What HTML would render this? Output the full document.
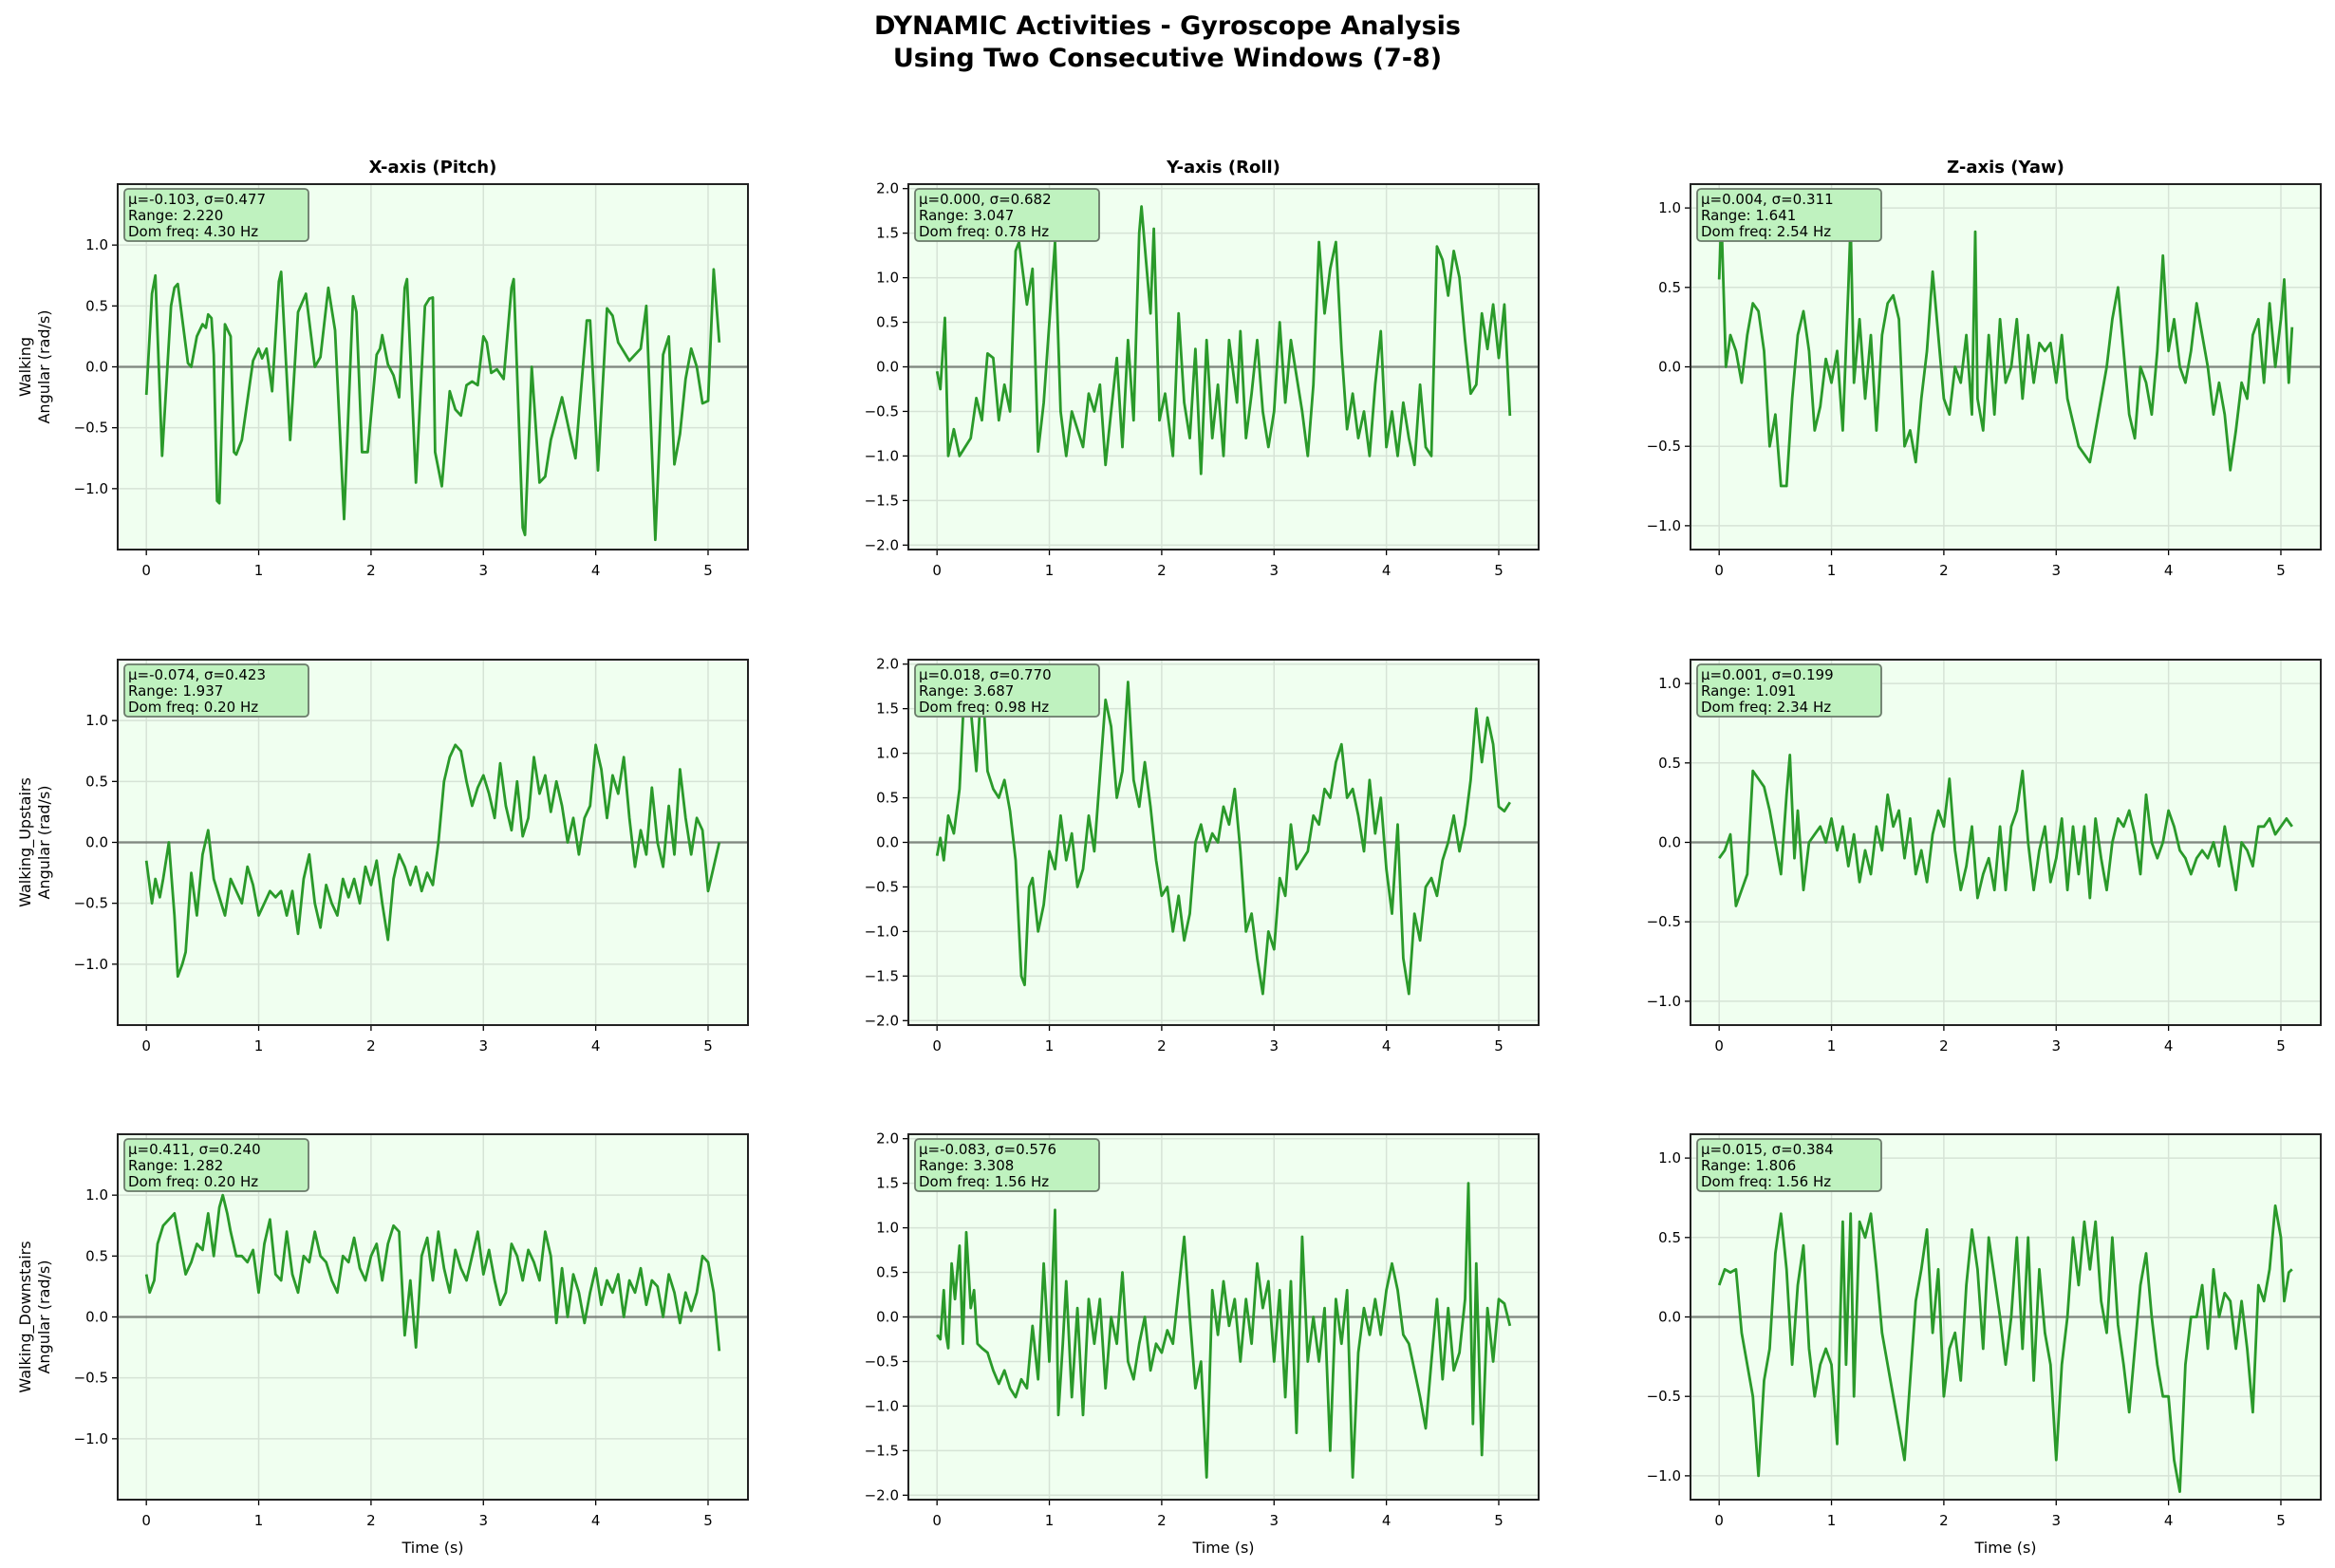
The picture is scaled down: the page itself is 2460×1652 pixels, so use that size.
<!DOCTYPE html>
<html><head><meta charset="utf-8"><style>
html,body{margin:0;padding:0;background:#fff;}
svg{display:block;font-family:"DejaVu Sans","Liberation Sans",sans-serif;}
</style></head><body>
<svg id="fig" width="2460" height="1652" viewBox="0 0 2460 1652" xmlns="http://www.w3.org/2000/svg">
<rect width="2460" height="1652" fill="#fff"/>
<text x="1230" y="36" text-anchor="middle" font-size="27" font-weight="bold">DYNAMIC Activities - Gyroscope Analysis</text>
<text x="1230" y="70" text-anchor="middle" font-size="27" font-weight="bold">Using Two Consecutive Windows (7-8)</text>
</svg>
<script>
const colTitles=["X-axis (Pitch)","Y-axis (Roll)","Z-axis (Yaw)"];
const rowNames=["Walking","Walking_Upstairs","Walking_Downstairs"];
const yLims=[1.5,2.05,1.15];
const yTicks=[[-1.0,-0.5,0.0,0.5,1.0],[-2.0,-1.5,-1.0,-0.5,0.0,0.5,1.0,1.5,2.0],[-1.0,-0.5,0.0,0.5,1.0]];
const xTicks=[0,1,2,3,4,5];
const stats=[
["μ=-0.103, σ=0.477","Range: 2.220","Dom freq: 4.30 Hz"],["μ=0.000, σ=0.682","Range: 3.047","Dom freq: 0.78 Hz"],["μ=0.004, σ=0.311","Range: 1.641","Dom freq: 2.54 Hz"],
["μ=-0.074, σ=0.423","Range: 1.937","Dom freq: 0.20 Hz"],["μ=0.018, σ=0.770","Range: 3.687","Dom freq: 0.98 Hz"],["μ=0.001, σ=0.199","Range: 1.091","Dom freq: 2.34 Hz"],
["μ=0.411, σ=0.240","Range: 1.282","Dom freq: 0.20 Hz"],["μ=-0.083, σ=0.576","Range: 3.308","Dom freq: 1.56 Hz"],["μ=0.015, σ=0.384","Range: 1.806","Dom freq: 1.56 Hz"]];
const walkX=[[0,-0.23],[0.05,0.6],[0.08,0.75],[0.14,-0.73],[0.22,0.5],[0.25,0.65],[0.28,0.68],[0.37,0.03],[0.4,0],[0.45,0.25],[0.5,0.35],[0.53,0.32],[0.55,0.43],[0.58,0.4],[0.6,0.1],[0.63,-1.1],[0.65,-1.12],[0.7,0.35],[0.75,0.25],[0.78,-0.7],[0.8,-0.72],[0.85,-0.6],[0.95,0.05],[1.0,0.15],[1.03,0.07],[1.07,0.15],[1.12,-0.2],[1.18,0.7],[1.2,0.78],[1.28,-0.6],[1.35,0.45],[1.42,0.6],[1.5,0.0],[1.55,0.08],[1.62,0.65],[1.68,0.3],[1.76,-1.25],[1.84,0.58],[1.87,0.45],[1.92,-0.7],[1.97,-0.7],[2.05,0.1],[2.08,0.15],[2.1,0.26],[2.15,0.02],[2.2,-0.07],[2.25,-0.25],[2.3,0.65],[2.32,0.72],[2.4,-0.95],[2.48,0.5],[2.52,0.56],[2.55,0.57],[2.57,-0.7],[2.63,-0.98],[2.7,-0.2],[2.75,-0.35],[2.8,-0.4],[2.85,-0.15],[2.9,-0.12],[2.95,-0.15],[3.0,0.25],[3.03,0.2],[3.07,-0.05],[3.12,-0.02],[3.18,-0.1],[3.25,0.65],[3.27,0.72],[3.35,-1.32],[3.37,-1.38],[3.43,0.0],[3.5,-0.95],[3.55,-0.9],[3.6,-0.6],[3.7,-0.25],[3.77,-0.55],[3.82,-0.75],[3.85,-0.4],[3.92,0.38],[3.95,0.38],[4.02,-0.85],[4.1,0.48],[4.15,0.42],[4.2,0.2],[4.3,0.05],[4.35,0.1],[4.4,0.15],[4.45,0.5],[4.53,-1.42],[4.6,0.1],[4.65,0.25],[4.7,-0.8],[4.75,-0.55],[4.8,-0.1],[4.85,0.15],[4.9,0.0],[4.95,-0.3],[5.0,-0.28],[5.05,0.8],[5.1,0.2]];
const walkY=[[0,-0.05],[0.03,-0.25],[0.07,0.55],[0.1,-1.0],[0.15,-0.7],[0.2,-1.0],[0.3,-0.8],[0.35,-0.35],[0.4,-0.6],[0.45,0.15],[0.5,0.1],[0.55,-0.6],[0.6,-0.2],[0.65,-0.5],[0.7,1.3],[0.73,1.4],[0.8,0.7],[0.85,1.1],[0.9,-0.95],[0.95,-0.4],[1.05,1.4],[1.1,-0.5],[1.15,-1.0],[1.2,-0.5],[1.3,-0.9],[1.35,-0.3],[1.4,-0.5],[1.45,-0.2],[1.5,-1.1],[1.55,-0.5],[1.6,0.1],[1.65,-0.9],[1.7,0.3],[1.75,-0.6],[1.8,1.5],[1.82,1.8],[1.86,1.2],[1.9,0.6],[1.93,1.55],[1.98,-0.6],[2.03,-0.3],[2.1,-1.0],[2.15,0.6],[2.2,-0.4],[2.25,-0.8],[2.3,0.2],[2.35,-1.2],[2.4,0.3],[2.45,-0.8],[2.5,-0.2],[2.55,-1.0],[2.6,0.3],[2.67,-0.4],[2.7,0.4],[2.75,-0.8],[2.8,-0.3],[2.85,0.3],[2.9,-0.5],[2.95,-0.9],[3.0,-0.5],[3.05,0.5],[3.1,-0.4],[3.15,0.3],[3.2,-0.1],[3.25,-0.5],[3.3,-1.0],[3.35,-0.2],[3.4,1.4],[3.43,0.9],[3.45,0.6],[3.5,1.1],[3.55,1.4],[3.6,0.2],[3.65,-0.7],[3.7,-0.3],[3.75,-0.8],[3.8,-0.5],[3.85,-1.0],[3.9,-0.2],[3.95,0.4],[4.0,-0.9],[4.05,-0.5],[4.1,-1.0],[4.15,-0.4],[4.2,-0.8],[4.25,-1.1],[4.3,-0.2],[4.35,-0.9],[4.4,-1.0],[4.45,1.35],[4.5,1.2],[4.55,0.8],[4.6,1.3],[4.65,1.0],[4.7,0.3],[4.75,-0.3],[4.8,-0.2],[4.85,0.6],[4.9,0.2],[4.95,0.7],[5.0,0.1],[5.05,0.7],[5.1,-0.55]];
const walkZ=[[0,0.55],[0.02,0.95],[0.06,0.0],[0.1,0.2],[0.15,0.1],[0.2,-0.1],[0.25,0.2],[0.3,0.4],[0.35,0.35],[0.4,0.1],[0.45,-0.5],[0.5,-0.3],[0.55,-0.75],[0.6,-0.75],[0.65,-0.2],[0.7,0.2],[0.75,0.35],[0.8,0.1],[0.85,-0.4],[0.9,-0.25],[0.95,0.05],[1.0,-0.1],[1.05,0.1],[1.1,-0.4],[1.15,0.5],[1.17,0.9],[1.2,-0.1],[1.25,0.3],[1.3,-0.2],[1.35,0.2],[1.4,-0.4],[1.45,0.2],[1.5,0.4],[1.55,0.45],[1.6,0.3],[1.65,-0.5],[1.7,-0.4],[1.75,-0.6],[1.8,-0.2],[1.85,0.1],[1.9,0.6],[1.95,0.2],[2.0,-0.2],[2.05,-0.3],[2.1,0.0],[2.15,-0.1],[2.2,0.2],[2.25,-0.3],[2.28,0.85],[2.3,-0.2],[2.35,-0.4],[2.4,0.2],[2.45,-0.3],[2.5,0.3],[2.55,-0.1],[2.6,0.0],[2.65,0.3],[2.7,-0.2],[2.75,0.2],[2.8,-0.1],[2.85,0.15],[2.9,0.1],[2.95,0.15],[3.0,-0.1],[3.05,0.2],[3.1,-0.2],[3.2,-0.5],[3.3,-0.6],[3.35,-0.4],[3.4,-0.2],[3.45,0.0],[3.5,0.3],[3.55,0.5],[3.6,0.1],[3.65,-0.3],[3.7,-0.45],[3.75,0.0],[3.8,-0.1],[3.85,-0.3],[3.9,0.1],[3.95,0.7],[4.0,0.1],[4.05,0.3],[4.1,0.0],[4.15,-0.1],[4.2,0.1],[4.25,0.4],[4.3,0.2],[4.35,0.0],[4.4,-0.3],[4.45,-0.1],[4.5,-0.3],[4.55,-0.65],[4.6,-0.4],[4.65,-0.1],[4.7,-0.2],[4.75,0.2],[4.8,0.3],[4.85,-0.1],[4.9,0.4],[4.95,0.0],[5.0,0.3],[5.03,0.55],[5.07,-0.1],[5.1,0.25]];
const upX=[[0,-0.15],[0.05,-0.5],[0.08,-0.3],[0.12,-0.45],[0.15,-0.3],[0.2,0.0],[0.25,-0.6],[0.28,-1.1],[0.32,-1.0],[0.35,-0.9],[0.4,-0.25],[0.45,-0.6],[0.5,-0.1],[0.55,0.1],[0.6,-0.3],[0.65,-0.45],[0.7,-0.6],[0.75,-0.3],[0.8,-0.4],[0.85,-0.5],[0.9,-0.2],[0.95,-0.35],[1.0,-0.6],[1.05,-0.5],[1.1,-0.4],[1.15,-0.45],[1.2,-0.4],[1.25,-0.6],[1.3,-0.4],[1.35,-0.75],[1.4,-0.3],[1.45,-0.1],[1.5,-0.5],[1.55,-0.7],[1.6,-0.35],[1.65,-0.5],[1.7,-0.6],[1.75,-0.3],[1.8,-0.45],[1.85,-0.3],[1.9,-0.5],[1.95,-0.2],[2.0,-0.35],[2.05,-0.15],[2.1,-0.5],[2.15,-0.8],[2.2,-0.3],[2.25,-0.1],[2.3,-0.2],[2.35,-0.35],[2.4,-0.2],[2.45,-0.4],[2.5,-0.25],[2.55,-0.35],[2.6,0.0],[2.65,0.5],[2.7,0.7],[2.75,0.8],[2.8,0.75],[2.85,0.5],[2.9,0.3],[2.95,0.45],[3.0,0.55],[3.05,0.4],[3.1,0.2],[3.15,0.65],[3.2,0.3],[3.25,0.1],[3.3,0.5],[3.35,0.05],[3.4,0.2],[3.45,0.7],[3.5,0.4],[3.55,0.55],[3.6,0.25],[3.65,0.5],[3.7,0.3],[3.75,0.0],[3.8,0.2],[3.85,-0.1],[3.9,0.2],[3.95,0.3],[4.0,0.8],[4.05,0.6],[4.1,0.2],[4.15,0.55],[4.2,0.4],[4.25,0.7],[4.3,0.2],[4.35,-0.2],[4.4,0.1],[4.45,-0.1],[4.5,0.45],[4.55,0.0],[4.6,-0.2],[4.65,0.3],[4.7,-0.1],[4.75,0.6],[4.8,0.2],[4.85,-0.1],[4.9,0.2],[4.95,0.1],[5.0,-0.4],[5.05,-0.2],[5.1,0.0]];
const upY=[[0,-0.15],[0.03,0.05],[0.06,-0.2],[0.1,0.3],[0.15,0.1],[0.2,0.6],[0.25,1.9],[0.3,1.5],[0.35,0.8],[0.4,1.9],[0.45,0.8],[0.5,0.6],[0.55,0.5],[0.6,0.7],[0.65,0.35],[0.7,-0.2],[0.75,-1.5],[0.78,-1.6],[0.82,-0.5],[0.85,-0.4],[0.9,-1.0],[0.95,-0.7],[1.0,-0.1],[1.05,-0.3],[1.1,0.3],[1.15,-0.2],[1.2,0.1],[1.25,-0.5],[1.3,-0.3],[1.35,0.3],[1.4,-0.1],[1.5,1.6],[1.55,1.3],[1.6,0.5],[1.65,0.8],[1.7,1.8],[1.75,0.7],[1.8,0.4],[1.85,0.9],[1.9,0.4],[1.95,-0.2],[2.0,-0.6],[2.05,-0.5],[2.1,-1.0],[2.15,-0.6],[2.2,-1.1],[2.25,-0.8],[2.3,0.0],[2.35,0.2],[2.4,-0.1],[2.45,0.1],[2.5,0.0],[2.55,0.4],[2.6,0.2],[2.65,0.6],[2.7,-0.1],[2.75,-1.0],[2.8,-0.8],[2.85,-1.3],[2.9,-1.7],[2.95,-1.0],[3.0,-1.2],[3.05,-0.4],[3.1,-0.6],[3.15,0.2],[3.2,-0.3],[3.25,-0.2],[3.3,-0.1],[3.35,0.3],[3.4,0.2],[3.45,0.6],[3.5,0.5],[3.55,0.9],[3.6,1.1],[3.65,0.5],[3.7,0.6],[3.75,0.3],[3.8,-0.1],[3.85,0.7],[3.9,0.1],[3.95,0.5],[4.0,-0.3],[4.05,-0.8],[4.1,0.2],[4.15,-1.3],[4.2,-1.7],[4.25,-0.8],[4.3,-1.1],[4.35,-0.5],[4.4,-0.4],[4.45,-0.6],[4.5,-0.2],[4.55,0.0],[4.6,0.3],[4.65,-0.1],[4.7,0.2],[4.75,0.7],[4.8,1.5],[4.85,0.9],[4.9,1.4],[4.95,1.1],[5.0,0.4],[5.05,0.35],[5.1,0.45]];
const upZ=[[0,-0.1],[0.05,-0.05],[0.1,0.05],[0.15,-0.4],[0.2,-0.3],[0.25,-0.2],[0.3,0.45],[0.35,0.4],[0.4,0.35],[0.45,0.2],[0.5,0.0],[0.55,-0.2],[0.6,0.3],[0.63,0.55],[0.67,-0.1],[0.7,0.2],[0.75,-0.3],[0.8,0.0],[0.85,0.05],[0.9,0.1],[0.95,0.0],[1.0,0.15],[1.05,-0.05],[1.1,0.1],[1.15,-0.15],[1.2,0.05],[1.25,-0.25],[1.3,-0.05],[1.35,-0.2],[1.4,0.1],[1.45,-0.05],[1.5,0.3],[1.55,0.1],[1.6,0.2],[1.65,-0.1],[1.7,0.15],[1.75,-0.2],[1.8,-0.05],[1.85,-0.25],[1.9,0.05],[1.95,0.2],[2.0,0.1],[2.05,0.4],[2.1,-0.05],[2.15,-0.3],[2.2,-0.15],[2.25,0.1],[2.3,-0.35],[2.35,-0.2],[2.4,-0.1],[2.45,-0.3],[2.5,0.1],[2.55,-0.3],[2.6,0.1],[2.65,0.2],[2.7,0.45],[2.75,0.0],[2.8,-0.3],[2.85,-0.05],[2.9,0.1],[2.95,-0.25],[3.0,-0.1],[3.05,0.15],[3.1,-0.3],[3.15,0.1],[3.2,-0.2],[3.25,0.1],[3.3,-0.35],[3.35,0.15],[3.4,-0.1],[3.45,-0.3],[3.5,0.0],[3.55,0.15],[3.6,0.1],[3.65,0.2],[3.7,0.05],[3.75,-0.2],[3.8,0.3],[3.85,0.0],[3.9,-0.1],[3.95,0.0],[4.0,0.2],[4.05,0.1],[4.1,-0.05],[4.15,-0.1],[4.2,-0.2],[4.25,-0.1],[4.3,-0.05],[4.35,-0.1],[4.4,0.0],[4.45,-0.15],[4.5,0.1],[4.55,-0.1],[4.6,-0.3],[4.65,0.0],[4.7,-0.05],[4.75,-0.15],[4.8,0.1],[4.85,0.1],[4.9,0.15],[4.95,0.05],[5.0,0.1],[5.05,0.15],[5.1,0.1]];
const downX=[[0,0.35],[0.03,0.2],[0.07,0.3],[0.1,0.6],[0.15,0.75],[0.2,0.8],[0.25,0.85],[0.3,0.6],[0.35,0.35],[0.4,0.45],[0.45,0.6],[0.5,0.55],[0.55,0.85],[0.6,0.5],[0.65,0.9],[0.68,1.0],[0.72,0.85],[0.75,0.7],[0.8,0.5],[0.85,0.5],[0.9,0.45],[0.95,0.55],[1.0,0.2],[1.05,0.6],[1.1,0.8],[1.15,0.35],[1.2,0.3],[1.25,0.7],[1.3,0.35],[1.35,0.2],[1.4,0.5],[1.45,0.45],[1.5,0.7],[1.55,0.5],[1.6,0.45],[1.65,0.3],[1.7,0.2],[1.75,0.5],[1.8,0.45],[1.85,0.65],[1.9,0.4],[1.95,0.3],[2.0,0.5],[2.05,0.6],[2.1,0.3],[2.15,0.6],[2.2,0.75],[2.25,0.7],[2.3,-0.15],[2.35,0.3],[2.4,-0.25],[2.45,0.5],[2.5,0.65],[2.55,0.3],[2.6,0.7],[2.65,0.4],[2.7,0.2],[2.75,0.55],[2.8,0.4],[2.85,0.3],[2.9,0.5],[2.95,0.7],[3.0,0.35],[3.05,0.55],[3.1,0.3],[3.15,0.1],[3.2,0.2],[3.25,0.6],[3.3,0.5],[3.35,0.3],[3.4,0.55],[3.45,0.45],[3.5,0.3],[3.55,0.7],[3.6,0.5],[3.65,-0.05],[3.7,0.4],[3.75,0.0],[3.8,0.35],[3.85,0.2],[3.9,-0.05],[3.95,0.2],[4.0,0.4],[4.05,0.1],[4.1,0.3],[4.15,0.2],[4.2,0.35],[4.25,0.0],[4.3,0.3],[4.35,0.2],[4.4,0.4],[4.45,0.1],[4.5,0.3],[4.55,0.25],[4.6,0.0],[4.65,0.35],[4.7,0.2],[4.75,-0.05],[4.8,0.2],[4.85,0.05],[4.9,0.2],[4.95,0.5],[5.0,0.45],[5.05,0.2],[5.1,-0.28]];
const downY=[[0,-0.2],[0.03,-0.25],[0.06,0.3],[0.08,-0.2],[0.1,-0.35],[0.13,0.6],[0.16,0.2],[0.2,0.8],[0.23,-0.3],[0.26,0.95],[0.3,0.1],[0.33,0.3],[0.36,-0.3],[0.4,-0.35],[0.45,-0.4],[0.5,-0.6],[0.55,-0.75],[0.6,-0.6],[0.65,-0.8],[0.7,-0.9],[0.75,-0.7],[0.8,-0.8],[0.85,-0.1],[0.9,-0.7],[0.95,0.6],[1.0,-0.5],[1.05,1.2],[1.08,-1.1],[1.12,-0.3],[1.15,0.4],[1.2,-0.9],[1.25,0.1],[1.3,-1.1],[1.35,0.2],[1.4,-0.3],[1.45,0.2],[1.5,-0.8],[1.55,0.0],[1.6,-0.3],[1.65,0.5],[1.7,-0.5],[1.75,-0.7],[1.8,-0.3],[1.85,0.0],[1.9,-0.6],[1.95,-0.3],[2.0,-0.4],[2.05,-0.15],[2.1,-0.3],[2.15,0.3],[2.2,0.9],[2.25,0.0],[2.3,-0.8],[2.35,-0.5],[2.4,-1.8],[2.45,0.3],[2.5,-0.2],[2.55,0.4],[2.6,-0.1],[2.65,0.2],[2.7,-0.5],[2.75,0.2],[2.8,-0.3],[2.85,0.6],[2.9,0.1],[2.95,0.4],[3.0,-0.5],[3.05,0.3],[3.1,-0.9],[3.15,0.4],[3.2,-1.3],[3.25,0.9],[3.3,-0.5],[3.35,0.0],[3.4,-0.5],[3.45,0.1],[3.5,-1.5],[3.55,0.2],[3.6,-0.3],[3.65,0.3],[3.7,-1.8],[3.75,-0.4],[3.8,0.1],[3.85,-0.2],[3.9,0.2],[3.95,-0.2],[4.0,0.3],[4.05,0.6],[4.1,0.3],[4.15,-0.2],[4.2,-0.3],[4.25,-0.6],[4.3,-0.9],[4.35,-1.25],[4.4,-0.5],[4.45,0.2],[4.5,-0.7],[4.55,0.1],[4.6,-0.6],[4.65,-0.4],[4.7,0.2],[4.73,1.5],[4.77,-1.2],[4.8,0.6],[4.85,-1.55],[4.9,0.1],[4.95,-0.5],[5.0,0.2],[5.05,0.15],[5.1,-0.1]];
const downZ=[[0,0.2],[0.05,0.3],[0.1,0.28],[0.15,0.3],[0.2,-0.1],[0.25,-0.3],[0.3,-0.5],[0.35,-1.0],[0.4,-0.4],[0.45,-0.2],[0.5,0.4],[0.55,0.65],[0.6,0.3],[0.65,-0.3],[0.7,0.2],[0.75,0.45],[0.8,-0.2],[0.85,-0.5],[0.9,-0.3],[0.95,-0.2],[1.0,-0.3],[1.05,-0.8],[1.1,0.6],[1.13,-0.3],[1.17,0.65],[1.2,-0.5],[1.25,0.6],[1.3,0.5],[1.35,0.65],[1.4,0.3],[1.45,-0.1],[1.5,-0.3],[1.55,-0.5],[1.6,-0.7],[1.65,-0.9],[1.7,-0.4],[1.75,0.1],[1.8,0.3],[1.85,0.55],[1.9,-0.1],[1.95,0.3],[2.0,-0.5],[2.05,-0.2],[2.1,-0.1],[2.15,-0.4],[2.2,0.2],[2.25,0.55],[2.3,0.3],[2.35,-0.2],[2.4,0.5],[2.45,0.25],[2.5,0.0],[2.55,-0.3],[2.6,0.0],[2.65,0.5],[2.7,-0.2],[2.75,0.5],[2.8,-0.4],[2.85,0.3],[2.9,-0.1],[2.95,-0.3],[3.0,-0.9],[3.05,-0.3],[3.1,0.0],[3.15,0.5],[3.2,0.2],[3.25,0.6],[3.3,0.3],[3.35,0.6],[3.4,0.1],[3.45,-0.1],[3.5,0.5],[3.55,-0.05],[3.6,-0.3],[3.65,-0.6],[3.7,-0.2],[3.75,0.2],[3.8,0.4],[3.85,0.0],[3.9,-0.3],[3.95,-0.5],[4.0,-0.5],[4.05,-0.9],[4.1,-1.1],[4.15,-0.3],[4.2,0.0],[4.25,0.0],[4.3,0.2],[4.35,-0.2],[4.4,0.3],[4.45,0.0],[4.5,0.15],[4.55,0.1],[4.6,-0.2],[4.65,0.1],[4.7,-0.2],[4.75,-0.6],[4.8,0.2],[4.85,0.1],[4.9,0.3],[4.95,0.7],[5.0,0.5],[5.03,0.1],[5.07,0.28],[5.1,0.3]];
const series=[walkX,walkY,walkZ,upX,upY,upZ,downX,downY,downZ];

const NS="http://www.w3.org/2000/svg";
const svg=document.getElementById('fig');
const colLeft=[124,957,1781], colW=664;
const rowTop=[194,695,1195], rowH=385;
const xMin=-0.255, xMax=5.355;
function mk(tag,attrs,parent){const e=document.createElementNS(NS,tag);for(const k in attrs)e.setAttribute(k,attrs[k]);(parent||svg).appendChild(e);return e;}
for(let r=0;r<3;r++){for(let c=0;c<3;c++){
  const L=colLeft[c],T=rowTop[r],lim=yLims[c];
  const sx=t=>L+(t-xMin)/(xMax-xMin)*colW;
  const sy=v=>T+(lim-v)/(2*lim)*rowH;
  const g=mk('g',{});
  
  
  const bg=mk('rect',{x:L,y:T,width:colW,height:rowH,fill:'#f0fff0'},g);
  
  
  xTicks.forEach(t=>{const x=sx(t);
    const gl=mk('line',{x1:x,x2:x,y1:T,y2:T+rowH,stroke:'#d6e3d6','stroke-width':1.5},g);
    
    
    mk('line',{x1:x,x2:x,y1:T+rowH,y2:T+rowH+6,stroke:'#000','stroke-width':1.3},g);
    const tl=mk('text',{x:x,y:T+rowH+27,'text-anchor':'middle','font-size':15},g);tl.textContent=t;
    
    
  });
  yTicks[c].forEach(v=>{const y=sy(v);
    const gl=mk('line',{x1:L,x2:L+colW,y1:y,y2:y,stroke:'#d6e3d6','stroke-width':1.5},g);
    
    
    mk('line',{x1:L-6,x2:L,y1:y,y2:y,stroke:'#000','stroke-width':1.3},g);
    const tl=mk('text',{x:L-10,y:y+5,'text-anchor':'end','font-size':15},g);tl.textContent=(v<0?'\u2212':'')+Math.abs(v).toFixed(1);
    
    
  });
  const zl=mk('line',{x1:L,x2:L+colW,y1:sy(0),y2:sy(0),stroke:'#000','stroke-opacity':0.4,'stroke-width':2.5},g);
  
  
  const pts=series[r*3+c].map(p=>sx(p[0]).toFixed(1)+','+sy(p[1]).toFixed(1)).join(' ');
  const pl=mk('polyline',{points:pts,fill:'none',stroke:'#2a9a2a','stroke-width':2.8,'stroke-linejoin':'round'},g);
  
  
  const fr=mk('rect',{x:L,y:T,width:colW,height:rowH,fill:'none',stroke:'#222','stroke-width':2},g);
  
  
  const sb=mk('g',{},g);
  
  
  mk('rect',{x:L+7,y:T+5,width:194,height:55,rx:4,fill:'#bff2bf',stroke:'#6a7a6a','stroke-width':1.8},sb);
  stats[r*3+c].forEach((s,i)=>{const t=mk('text',{x:L+11,y:T+21+i*17,'font-size':15},sb);t.textContent=s;});
  if(r===0){const t=mk('text',{x:L+colW/2,y:T-12,'text-anchor':'middle','font-size':18,'font-weight':'bold'});t.textContent=colTitles[c];
    
    }
  if(r===2){const t=mk('text',{x:L+colW/2,y:T+rowH+56,'text-anchor':'middle','font-size':16});t.textContent='Time (s)';
    
    }
  if(c===0){const cy=T+rowH/2;
    const t=mk('text',{transform:'translate(32,'+cy+') rotate(-90)','text-anchor':'middle','font-size':16});
    
    
    const a=mk('tspan',{x:0,y:0},t);a.textContent=rowNames[r];
    const b=mk('tspan',{x:0,y:20},t);b.textContent='Angular (rad/s)';}
}}
</script>
</body></html>
